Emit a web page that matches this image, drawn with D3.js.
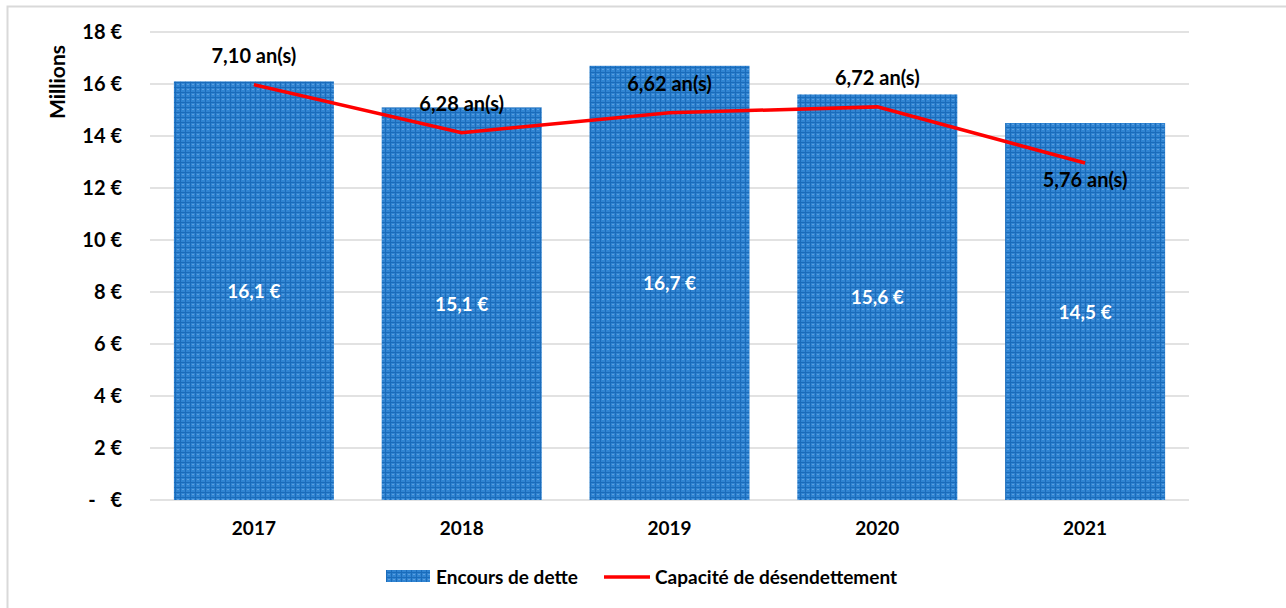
<!DOCTYPE html>
<html>
<head>
<meta charset="utf-8">
<script src="https://cdn.jsdelivr.net/npm/d3@7.9.0/dist/d3.min.js"></script>
<style>
  body { margin: 0; background: #fff; }
  svg text { font-family: Lato, "Open Sans", sans-serif; font-weight: bold; }
</style>
</head>
<body>
<svg id="chart" width="1286" height="608"></svg>
<script>
const years = ['2017', '2018', '2019', '2020', '2021'];
const encours = [16.1, 15.1, 16.7, 15.6, 14.5];            // millions €
const capacite = [7.10, 6.28, 6.62, 6.72, 5.76];           // années
const encoursLabels = ['16,1 €', '15,1 €', '16,7 €', '15,6 €', '14,5 €'];
const capaciteLabels = ['7,10 an(s)', '6,28 an(s)', '6,62 an(s)', '6,72 an(s)', '5,76 an(s)'];
const yTicks = [0, 2, 4, 6, 8, 10, 12, 14, 16, 18];
// position of each line label relative to its point
const labelBelow = [false, false, false, false, true];

const svg = d3.select('#chart');
const margin = { left: 150, right: 97, top: 32, bottom: 108 };
const width = 1286 - margin.left - margin.right;
const height = 608 - margin.top - margin.bottom;

// chart border
svg.append('rect')
  .attr('x', 7.5).attr('y', 6.5)
  .attr('width', 1290).attr('height', 620)
  .attr('fill', 'none')
  .attr('stroke', '#d9d9d9')
  .attr('stroke-width', 2);

// bar fill pattern (Excel small grid)
const defs = svg.append('defs');
const pat = defs.append('pattern')
  .attr('id', 'grid')
  .attr('patternUnits', 'userSpaceOnUse')
  .attr('width', 5).attr('height', 5);
pat.append('rect').attr('width', 5).attr('height', 5).attr('fill', '#3084d2');
pat.append('rect').attr('x', 0).attr('y', 0).attr('width', 5).attr('height', 1).attr('fill', '#1b6cbb');
pat.append('rect').attr('x', 0).attr('y', 0).attr('width', 1).attr('height', 5).attr('fill', '#1b6cbb');
pat.append('rect').attr('x', 2).attr('y', 2).attr('width', 2).attr('height', 1).attr('fill', '#5d9fde');

const g = svg.append('g').attr('transform', `translate(${margin.left},${margin.top})`);

const x = d3.scaleBand().domain(years).range([0, width]).paddingInner(0.23).paddingOuter(0.115);
const y = d3.scaleLinear().domain([0, 18]).range([height, 0]);
const y2 = d3.scaleLinear().domain([0, 8]).range([height, 0]);

// gridlines
g.append('g')
  .selectAll('line')
  .data(yTicks)
  .join('line')
  .attr('x1', 0).attr('x2', width)
  .attr('y1', (d) => y(d)).attr('y2', (d) => y(d))
  .attr('stroke', '#d9d9d9')
  .attr('stroke-width', 1.5);

// y axis labels
const yAxis = g.append('g')
  .call(d3.axisLeft(y).tickValues(yTicks).tickSize(0).tickPadding(28)
    .tickFormat((d) => (d === 0 ? '-\u00a0\u00a0\u00a0€' : d + ' €')));
yAxis.select('.domain').remove();
yAxis.selectAll('text')
  .attr('font-size', 20)
  .attr('fill', '#000')
  .style('font-family', 'Lato, sans-serif')
  .style('font-weight', 'bold');

// x axis labels
const xAxis = g.append('g')
  .attr('transform', `translate(0,${height})`)
  .call(d3.axisBottom(x).tickSize(0).tickPadding(22));
xAxis.select('.domain').remove();
xAxis.selectAll('text')
  .attr('font-size', 19)
  .attr('fill', '#000')
  .style('font-family', 'Lato, sans-serif')
  .style('font-weight', 'bold');

// axis title
svg.append('text')
  .attr('transform', 'translate(65,82) rotate(-90)')
  .attr('text-anchor', 'middle')
  .attr('font-size', 21)
  .text('Millions');

// bars
g.selectAll('.bar')
  .data(encours)
  .join('rect')
  .attr('class', 'bar')
  .attr('x', (d, i) => x(years[i]))
  .attr('width', x.bandwidth())
  .attr('y', (d) => y(d))
  .attr('height', (d) => y(0) - y(d))
  .attr('fill', 'url(#grid)');

// bar labels
g.selectAll('.bar-label')
  .data(encours)
  .join('text')
  .attr('class', 'bar-label')
  .attr('x', (d, i) => x(years[i]) + x.bandwidth() / 2)
  .attr('y', (d) => (y(d) + y(0)) / 2 + 7)
  .attr('text-anchor', 'middle')
  .attr('font-size', 19)
  .attr('fill', '#fff')
  .text((d, i) => encoursLabels[i]);

// line
const line = d3.line()
  .x((d, i) => x(years[i]) + x.bandwidth() / 2)
  .y((d) => y2(d));

g.append('path')
  .datum(capacite)
  .attr('d', line)
  .attr('fill', 'none')
  .attr('stroke', '#ff0000')
  .attr('stroke-width', 3.5);

// line labels
g.selectAll('.line-label')
  .data(capacite)
  .join('text')
  .attr('class', 'line-label')
  .attr('x', (d, i) => x(years[i]) + x.bandwidth() / 2)
  .attr('y', (d, i) => (labelBelow[i] ? y2(d) + 24 : y2(d) - 22))
  .attr('text-anchor', 'middle')
  .attr('font-size', 20)
  .attr('fill', '#000')
  .text((d, i) => capaciteLabels[i]);

// legend
const legend = svg.append('g').attr('transform', 'translate(386,577)');
legend.append('rect')
  .attr('x', 0).attr('y', -7)
  .attr('width', 44).attr('height', 12)
  .attr('fill', 'url(#grid)');
legend.append('text')
  .attr('x', 50).attr('y', 7)
  .attr('font-size', 19)
  .text('Encours de dette');
legend.append('line')
  .attr('x1', 218).attr('x2', 264)
  .attr('y1', 0).attr('y2', 0)
  .attr('stroke', '#ff0000')
  .attr('stroke-width', 3.5);
legend.append('text')
  .attr('x', 269).attr('y', 7)
  .attr('font-size', 19)
  .text('Capacité de désendettement');
</script>
</body>
</html>
